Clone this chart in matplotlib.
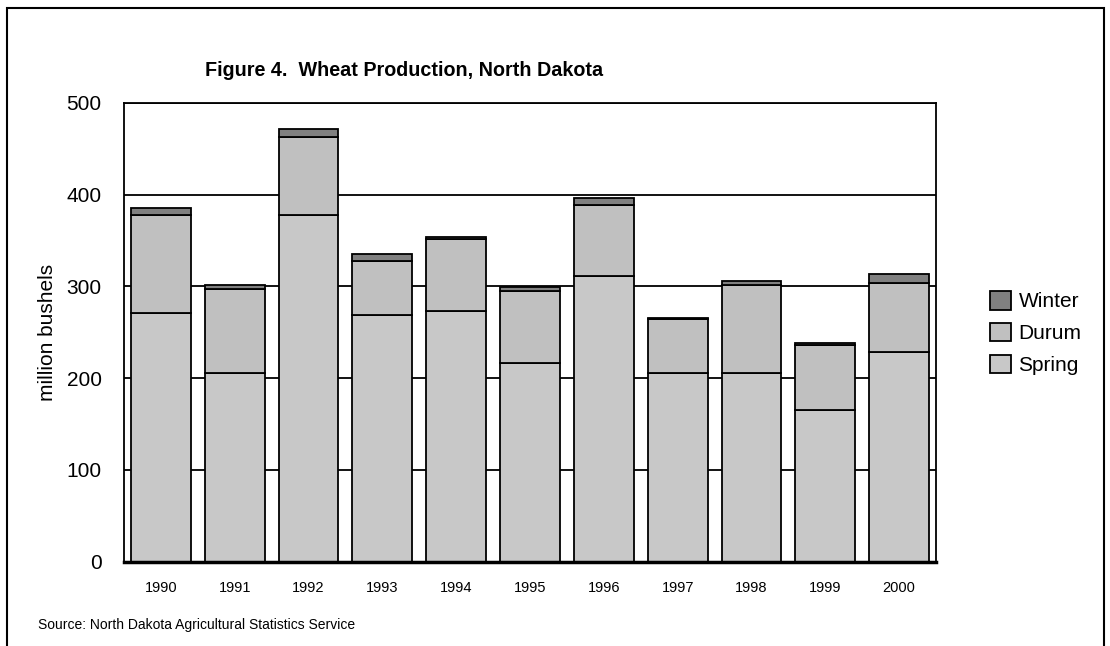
import numpy as np
import matplotlib.pyplot as plt
from matplotlib.patches import Rectangle, Patch

plt.rcParams['font.family'] = ['Liberation Sans', 'DejaVu Sans']

years = ['1990', '1991', '1992', '1993', '1994', '1995', '1996', '1997', '1998', '1999', '2000']
spring = [271, 206, 378, 269, 273, 217, 311, 206, 206, 165, 228]
durum = [107, 91, 85, 59, 79, 78, 78, 58, 96, 71, 76]
winter = [7, 5, 9, 7, 2, 4, 7, 2, 4, 2, 9]

W, H = 1110, 646
fig = plt.figure(figsize=(W / 100, H / 100), dpi=100)
ax = fig.add_axes([124 / W, 1 - 561.5 / H, (936 - 124) / W, (561.5 - 103) / H])

x = np.arange(len(years))
bw = 0.81
spring_a = np.array(spring)
durum_a = np.array(durum)
winter_a = np.array(winter)

ax.bar(x, spring_a, bw, color='#c8c8c8', edgecolor='black', linewidth=1.3, zorder=3)
ax.bar(x, durum_a, bw, bottom=spring_a, color='#c0c0c0', edgecolor='black', linewidth=1.3, zorder=3)
ax.bar(x, winter_a, bw, bottom=spring_a + durum_a, color='#808080', edgecolor='black', linewidth=1.3, zorder=3)

ax.set_xlim(-0.5, len(years) - 0.5)
ax.set_ylim(0, 500)
ax.set_yticks([0, 100, 200, 300, 400, 500])
ax.set_xticks(x)
ax.set_xticklabels(years, fontsize=10.5)
ax.tick_params(axis='y', labelsize=15, length=0, pad=16)
ax.tick_params(axis='x', length=0, pad=14)
ax.yaxis.grid(True, color='black', linewidth=1.3, zorder=1)
ax.set_axisbelow(True)
for s in ['top', 'right', 'left']:
    ax.spines[s].set_linewidth(1.3)
ax.spines['bottom'].set_linewidth(2.5)
ax.spines['bottom'].set_zorder(4)

ax.set_ylabel('million bushels', fontsize=15, labelpad=7)

fig.text(205 / W, 1 - 70 / H, 'Figure 4.  Wheat Production, North Dakota',
         fontsize=14.2, fontweight='bold', va='center', ha='left')
fig.text(38 / W, 1 - 625 / H, 'Source: North Dakota Agricultural Statistics Service',
         fontsize=10, va='center', ha='left')

# outer frame
fig.add_artist(Rectangle((7 / W, -0.1), (1104 - 7) / W, 1.1 - 8 / H,
                         transform=fig.transFigure, fill=False,
                         edgecolor='black', linewidth=1.5))

handles = [Patch(facecolor='#808080', edgecolor='black', linewidth=1.3),
           Patch(facecolor='#c0c0c0', edgecolor='black', linewidth=1.3),
           Patch(facecolor='#c8c8c8', edgecolor='black', linewidth=1.3)]
fig.legend(handles, ['Winter', 'Durum', 'Spring'], loc='center left',
           bbox_to_anchor=(980 / W, 1 - 333 / H), frameon=False, fontsize=15,
           handlelength=1.0, handleheight=1.0, handletextpad=0.35,
           labelspacing=0.55, borderpad=0)

fig.savefig('out.png', dpi=100)
